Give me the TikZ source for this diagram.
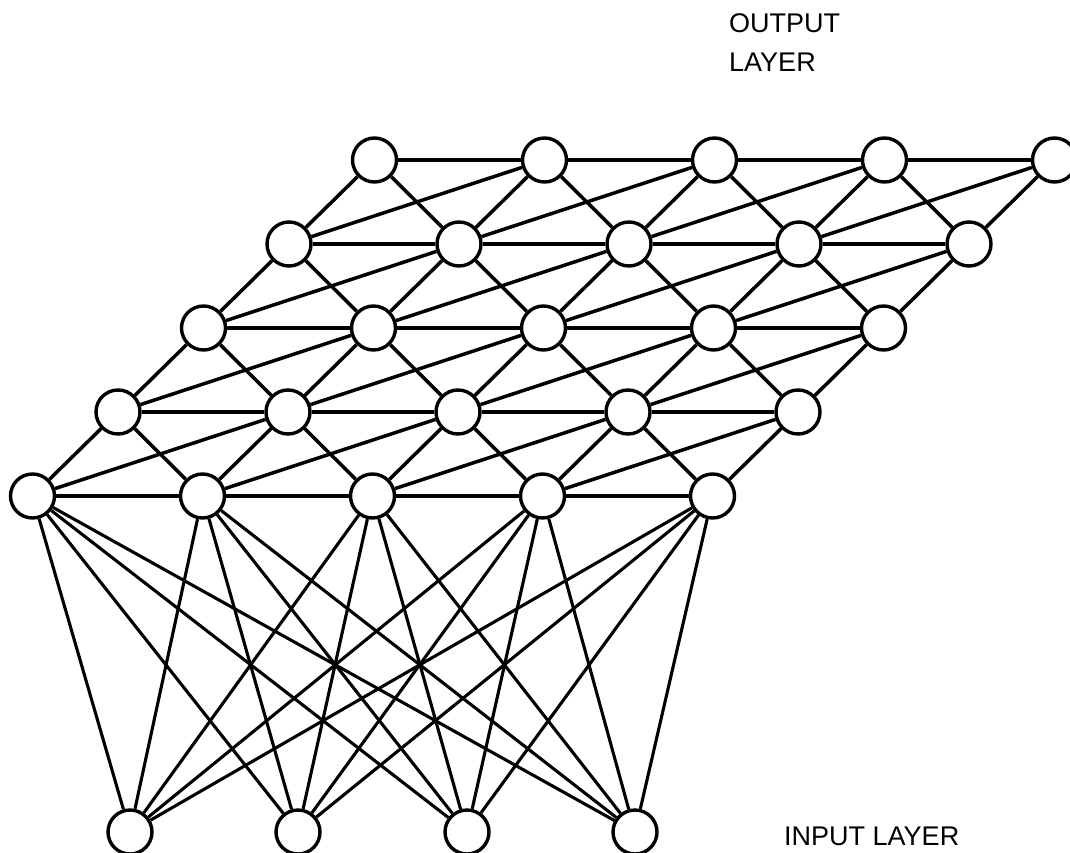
\documentclass[tikz,border=0pt]{standalone}
\usepackage{fontspec}
\setmainfont{Liberation Sans}
\begin{document}
\begin{tikzpicture}[x=1pt,y=-1pt,
  unit/.style={circle,draw=black,line width=3.4pt,fill=white,minimum size=44pt,inner sep=0pt},
  link/.style={line width=3.5pt,black},
  inlink/.style={line width=3.1pt,black},
  lbl/.style={anchor=base west,inner sep=0pt,font=\fontsize{27}{38}\selectfont}]
\useasboundingbox (0,0) rectangle (1070,853);
% output layer lattice
\foreach \r in {0,...,4}{
  \foreach \i in {0,...,4}{
    \node[unit] (o-\i-\r) at ({32.5+170*\i+85.5*\r},{496-84*\r}) {};
  }
}
% input layer
\foreach \k/\x in {0/130,1/298,2/467,3/635}{
  \node[unit] (in-\k) at (\x,832) {};
}
% connectors within the output layer
\foreach \r in {0,...,4}{
  \foreach \i [evaluate=\i as \j using int(\i+1)] in {0,...,3}{
    \draw[link] (o-\i-\r) -- (o-\j-\r);
  }
}
\foreach \r [evaluate=\r as \s using int(\r+1)] in {0,...,3}{
  \foreach \i in {0,...,4}{
    \draw[link] (o-\i-\r) -- (o-\i-\s);
  }
  \foreach \i [evaluate=\i as \j using int(\i-1)] in {1,...,4}{
    \draw[link] (o-\i-\r) -- (o-\j-\s);
  }
  \foreach \i [evaluate=\i as \j using int(\i+1)] in {0,...,3}{
    \draw[link] (o-\i-\r) -- (o-\j-\s);
  }
}
% input to output connectors
\foreach \k in {0,...,3}{
  \foreach \i in {0,...,4}{
    \draw[inlink] (in-\k) -- (o-\i-0);
  }
}
% labels
\node[lbl] (outlbl1) at (729,33) {OUTPUT};
\node[lbl] (outlbl2) at (729,72) {LAYER};
\node[lbl] (inlbl) at (784,845) {INPUT LAYER};
\end{tikzpicture}
\end{document}
